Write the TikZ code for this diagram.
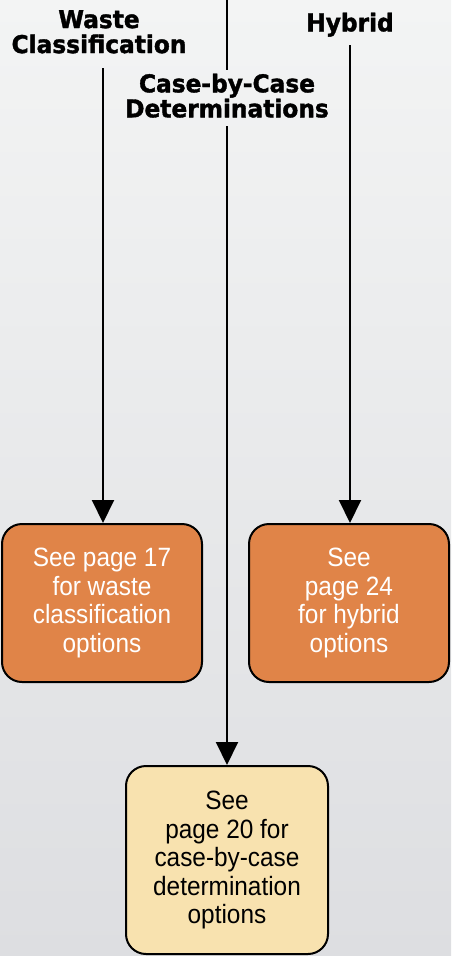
\documentclass[tikz,border=0pt]{standalone}
\usepackage{fontspec}
\usetikzlibrary{arrows.meta}
\newfontfamily\titlefont{DejaVu Sans}[BoldFeatures={FakeBold=1.5,FakeStretch=0.95}]
\newfontfamily\boxfont{Liberation Sans}[FakeStretch=0.92]
\definecolor{bgtop}{RGB}{243,244,244}
\definecolor{bgbot}{RGB}{221,222,225}
\definecolor{orangebox}{RGB}{224,132,72}
\definecolor{yellowbox}{RGB}{248,226,175}
\begin{document}
\begin{tikzpicture}[x=1pt,y=-1pt,
  title/.style={font=\titlefont\bfseries\fontsize{24.5}{25}\selectfont, align=center, inner sep=0pt},
  optbox/.style={draw=black, line width=2pt, rounded corners=20pt, minimum width=200pt, align=center,
    font=\boxfont\fontsize{26.5}{28.5}\selectfont, inner sep=0pt},
  conn/.style={line width=2pt, -{Triangle[length=23pt,width=22pt]}},
  plainline/.style={line width=2pt}]
\shade[top color=bgtop, bottom color=bgbot] (0,0) rectangle (451,956);
\useasboundingbox (0,0) rectangle (451,956);

\node[title, anchor=north] (wc) at (99,10) {Waste\\Classification};
\node[title, anchor=north] (hy) at (350,12.5) {Hybrid};
\node[title, anchor=north] (cc) at (227,73.5) {Case-by-Case\\Determinations};

\node[optbox, fill=orangebox, text=white, minimum height=158pt] (b1) at (102,603)
  {See page 17\\for waste\\classification\\options};
\node[optbox, fill=orangebox, text=white, minimum height=158pt] (b2) at (349,603)
  {See\\page 24\\for hybrid\\options};
\node[optbox, fill=yellowbox, text=black, minimum width=202pt, minimum height=188pt] (b3) at (227,860)
  {See\\page 20 for\\case-by-case\\determination\\options};

\coordinate (wtop) at (103,68);
\coordinate (htop) at (350,45);
\coordinate (ctop) at (227,0);
\coordinate (cgap1) at (227,70);
\coordinate (cgap2) at (227,126);

\draw[conn] (wtop) -- (wtop |- b1.north);
\draw[conn] (htop) -- (htop |- b2.north);
\draw[plainline] (ctop) -- (cgap1);
\draw[conn] (cgap2) -- (cgap2 |- b3.north);
\end{tikzpicture}
\end{document}
